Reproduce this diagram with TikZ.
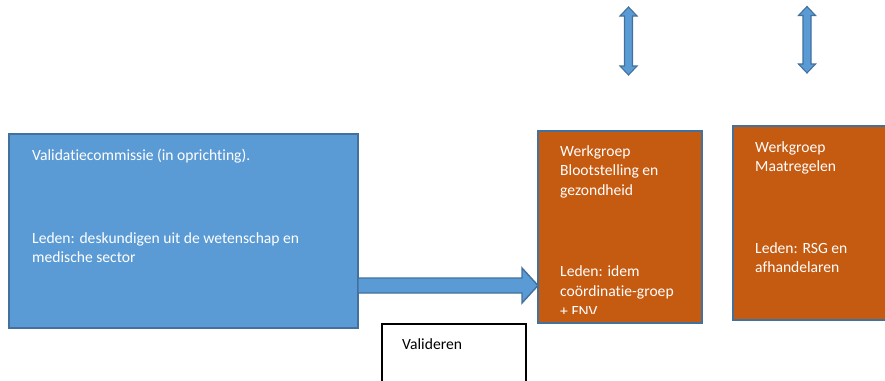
\documentclass[tikz,border=0pt]{standalone}
\usepackage{fontspec}
\setmainfont{Carlito}[Ligatures=NoCommon]
\usetikzlibrary{calc}
\definecolor{boxblue}{HTML}{5B9BD5}
\definecolor{edgeblue}{HTML}{41719C}
\definecolor{boxorange}{HTML}{C55A11}
\begin{document}
\begin{tikzpicture}[x=1pt,y=-1pt,
  box/.style={draw=edgeblue, line width=1.6pt, inner sep=0pt, outer sep=0pt, anchor=north west},
  plainbox/.style={draw=black, line width=1.2pt, fill=white, inner sep=0pt, outer sep=0pt, anchor=north west},
  txt/.style={text=white, font=\fontsize{15.6}{19.7}\selectfont, inner sep=0pt, anchor=base west},
  blacktxt/.style={text=black, font=\fontsize{15.6}{19.7}\selectfont, inner sep=0pt, anchor=base west},
  blockarrow/.style={draw=edgeblue, line width=1.4pt, fill=boxblue, line join=miter}]
\useasboundingbox (0,0) rectangle (885,380);
\fill[white] (0,0) rectangle (885,380);

% boxes
\node[box, fill=boxblue, minimum width=349pt, minimum height=194pt] (vc) at (9,134) {};
\node[box, fill=boxorange, minimum width=164pt, minimum height=192pt] (wg1) at (538,131) {};
\node[box, fill=boxorange, minimum width=165pt, minimum height=194pt] (wg2) at (733,126) {};
\node[plainbox, minimum width=144pt, minimum height=70pt] (val) at (382,324) {};

% texts blue box
\node[txt] (vc1) at (32,160) {Validatiecommissie (in oprichting).};
\node[txt] (vc2) at (32,243) {Leden: deskundigen uit de wetenschap en};
\node[txt] (vc3) at (32,262.5) {medische sector};

% texts werkgroep 1
\node[txt] (w11) at (560,156) {Werkgroep};
\node[txt] (w12) at (560,175.5) {Blootstelling en};
\node[txt] (w13) at (560,195) {gezondheid};
\node[txt] (w14) at (560,276) {Leden: idem};
\node[txt] (w15) at (560,296) {coördinatie-groep};
\begin{scope}
\clip (540,131) rectangle (700,313);
\node[txt] (w16) at (560,316) {+ FNV};
\end{scope}

% texts werkgroep 2
\node[txt] (w21) at (755,152) {Werkgroep};
\node[txt] (w22) at (755,171) {Maatregelen};
\node[txt] (w23) at (755,253) {Leden: RSG en};
\node[txt] (w24) at (755,272) {afhandelaren};

% valideren
\node[blacktxt] (valt) at (402,349) {Valideren};

% block arrow
\path (vc.east |- 0,285.5) coordinate (as);
\path (wg1.west |- 0,285.5) coordinate (at);
\draw[blockarrow] ($(as)+(0,-7.5)$) -- ($(at)+(-16,-7.5)$) -- ($(at)+(-16,-17.5)$) -- (at)
  -- ($(at)+(-16,17.5)$) -- ($(at)+(-16,7.5)$) -- ($(as)+(0,7.5)$) -- cycle;

% double arrows
\coordinate (u1) at (628.5,7);
\coordinate (d1) at (628.5,75);
\coordinate (u2) at (807,6.5);
\coordinate (d2) at (807,73);
\foreach \u/\d in {u1/d1,u2/d2}{
\draw[blockarrow, line width=1.1pt] (\u) -- ($(\u)+(8.5,9)$) -- ($(\u)+(4,9)$) -- ($(\d)+(4,-9)$) -- ($(\d)+(8.5,-9)$) -- (\d)
  -- ($(\d)+(-8.5,-9)$) -- ($(\d)+(-4,-9)$) -- ($(\u)+(-4,9)$) -- ($(\u)+(-8.5,9)$) -- cycle;
}
\end{tikzpicture}
\end{document}
